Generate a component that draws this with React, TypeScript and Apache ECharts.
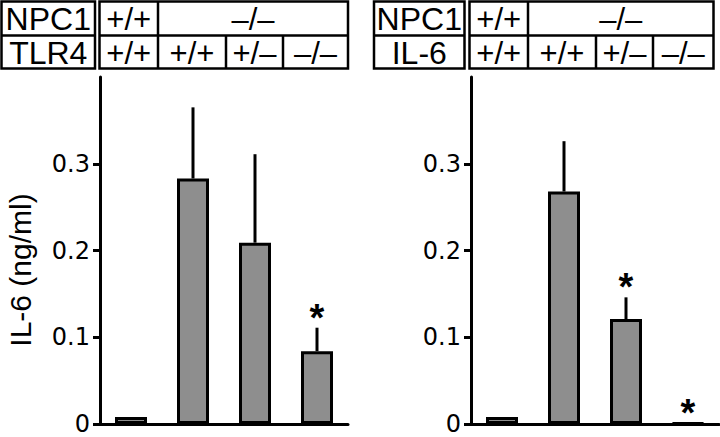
import React, { useEffect, useRef } from 'react';
import * as echarts from 'echarts';

const groups = ['NPC1+/+', 'NPC1-/- A', 'NPC1-/- B', 'NPC1-/- C'];
const tlr4Means = [0.008, 0.283, 0.209, 0.084];
const tlr4Errors = [0, 0.082, 0.102, 0.027];
const tlr4Stars = [0, 0, 0, 1];
const il6Means = [0.008, 0.268, 0.121, 0.001];
const il6Errors = [0, 0.058, 0.025, 0];
const il6Stars = [0, 0, 1, 1];
const yTicks = [0, 0.1, 0.2, 0.3];
const npc1Labels = ['+/+', '–/–'];
const tlr4Labels = ['+/+', '+/+', '+/–', '–/–'];
const il6Labels = ['+/+', '+/+', '+/–', '–/–'];
const rowNames = ['NPC1', 'TLR4', 'IL-6'];
const yTitle = 'IL-6 (ng/ml)';

const FONT = '"Liberation Sans", Arial, Helvetica, sans-serif';
const BAR_FILL = '#8e8e8e';

function tableGraphics(o: any, geneName: string, bottomLabels: string[]) {
  const lw = 2.5;
  const st = { stroke: '#000', lineWidth: lw, fill: 'none' };
  const els: any[] = [];
  const yTop = 1.5, yMid = 35.5, yBot = 68.5;
  els.push({ type: 'rect', shape: { x: o.lx0, y: yTop, width: o.lx1 - o.lx0, height: yBot - yTop }, style: st });
  els.push({ type: 'line', shape: { x1: o.lx0, y1: yMid, x2: o.lx1, y2: yMid }, style: st });
  els.push({ type: 'rect', shape: { x: o.cx0, y: yTop, width: o.cx1 - o.cx0, height: yBot - yTop }, style: st });
  els.push({ type: 'line', shape: { x1: o.cx0, y1: yMid, x2: o.cx1, y2: yMid }, style: st });
  els.push({ type: 'line', shape: { x1: o.d[0], y1: yTop, x2: o.d[0], y2: yMid }, style: st });
  o.d.forEach((x: number) => {
    els.push({ type: 'line', shape: { x1: x, y1: yMid, x2: x, y2: yBot }, style: st });
  });
  const txt = (text: string, x: number, y: number, size: number) => ({
    type: 'text', x, y,
    style: { text, fontSize: size, lineHeight: size, fontFamily: FONT, fill: '#000', align: 'center', verticalAlign: 'middle' },
  });
  const lc = (o.lx0 + o.lx1) / 2;
  els.push(txt(rowNames[0], lc, 18.5, 32));
  els.push(txt(geneName, lc, 53, 32));
  const bounds = [o.cx0, ...o.d, o.cx1];
  els.push(txt(npc1Labels[0], (bounds[0] + bounds[1]) / 2, 19, 31));
  els.push(txt(npc1Labels[1], (bounds[1] + bounds[4]) / 2, 19, 31));
  bottomLabels.forEach((t, i) => {
    els.push(txt(t, (bounds[i] + bounds[i + 1]) / 2, 53, 31));
  });
  return els;
}

function errRender(params: any, api: any) {
  const i = api.value(0);
  const v = api.value(1);
  const e = api.value(2);
  const s = api.value(3);
  const base = api.coord([i, v]);
  const top = api.coord([i, v + e]);
  const children: any[] = [];
  if (e > 0) {
    children.push({ type: 'line', shape: { x1: base[0], y1: base[1], x2: top[0], y2: top[1] }, style: { stroke: '#000', lineWidth: 3 } });
  }
  if (s) {
    children.push({
      type: 'text', x: top[0], y: top[1] - 10,
      style: { text: '*', fontSize: 38, fontWeight: 'bold', fontFamily: FONT, fill: '#000', align: 'center', verticalAlign: 'middle' },
    });
  }
  return { type: 'group', children };
}

export default function App() {
  const ref = useRef<HTMLDivElement>(null);
  useEffect(() => {
    if (!ref.current) return;
    const chart = echarts.init(ref.current, null, { renderer: 'svg' });
    const xAxisCommon = {
      type: 'category', data: groups, boundaryGap: true,
      axisLine: { show: true, lineStyle: { color: '#000', width: 3 } },
      axisTick: { show: false }, axisLabel: { show: false }, splitLine: { show: false },
    };
    const yAxisCommon = {
      type: 'value', min: 0, max: 0.4, interval: 0.1,
      axisLine: { show: true, lineStyle: { color: '#000', width: 3 } },
      axisTick: { show: true, inside: false, length: 7, lineStyle: { color: '#000', width: 3 }, customValues: yTicks },
      axisLabel: { show: true, margin: 10, fontSize: 24, fontFamily: '"DejaVu Sans", sans-serif', color: '#000', customValues: yTicks,
        formatter: (v: number) => (v === 0 ? '0' : v.toFixed(1)) },
      splitLine: { show: false },
    };
    const barStyle = { color: BAR_FILL, borderColor: '#000', borderWidth: 3 };
    chart.setOption({
      animation: false,
      backgroundColor: '#fff',
      grid: [
        { left: 100, top: 77, width: 248, height: 347 },
        { left: 471, top: 77, width: 248, height: 347 },
      ],
      xAxis: [{ ...xAxisCommon, gridIndex: 0 }, { ...xAxisCommon, gridIndex: 1 }],
      yAxis: [{ ...yAxisCommon, gridIndex: 0 }, { ...yAxisCommon, gridIndex: 1 }],
      series: [
        { type: 'bar', xAxisIndex: 0, yAxisIndex: 0, data: tlr4Means, barWidth: 32, itemStyle: barStyle },
        { type: 'bar', xAxisIndex: 1, yAxisIndex: 1, data: il6Means, barWidth: 32, itemStyle: barStyle },
        { type: 'custom', xAxisIndex: 0, yAxisIndex: 0, renderItem: errRender, encode: { x: 0, y: 1 },
          data: tlr4Means.map((m, i) => [i, m, tlr4Errors[i], tlr4Stars[i]]), z: 5 },
        { type: 'custom', xAxisIndex: 1, yAxisIndex: 1, renderItem: errRender, encode: { x: 0, y: 1 },
          data: il6Means.map((m, i) => [i, m, il6Errors[i], il6Stars[i]]), z: 5 },
      ],
      graphic: [
        ...tableGraphics({ lx0: 1.5, lx1: 95, cx0: 99.5, cx1: 348, d: [158, 226, 283] }, rowNames[1], tlr4Labels),
        ...tableGraphics({ lx0: 374, lx1: 464.5, cx0: 469.5, cx1: 713.5, d: [528, 596, 653] }, rowNames[2], il6Labels),
        {
          type: 'text', x: 20, y: 270, rotation: Math.PI / 2,
          style: { text: yTitle, fontSize: 30, fontFamily: FONT, fill: '#000', align: 'center', verticalAlign: 'middle' },
        },
      ],
    });
    return () => chart.dispose();
  }, []);
  return <div ref={ref} style={{ position: 'absolute', left: 0, top: 0, width: 720, height: 437 }} />;
}
